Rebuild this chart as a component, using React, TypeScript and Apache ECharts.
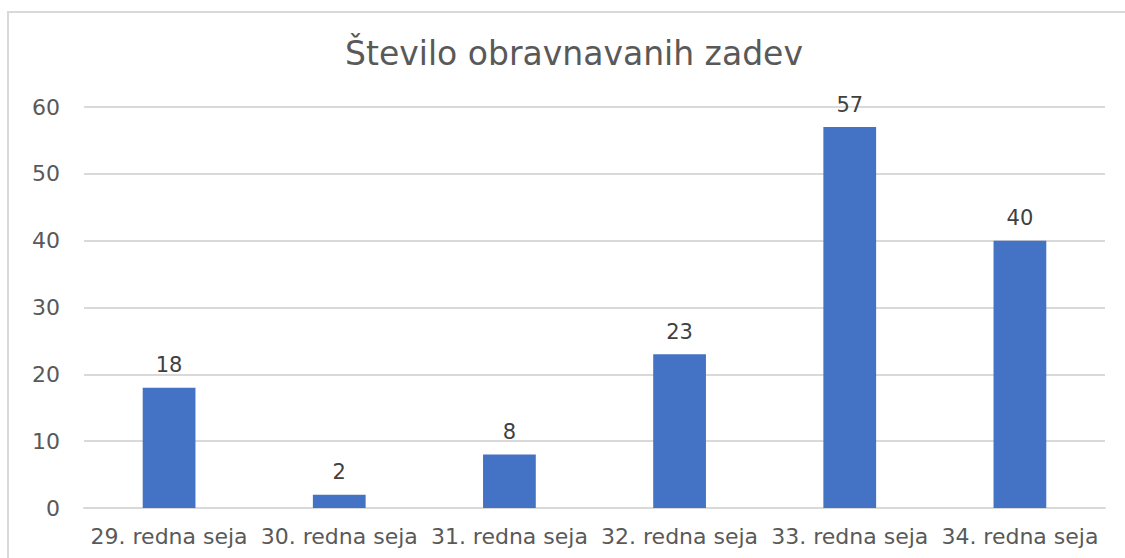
import React, { useEffect, useRef } from "react";
import * as echarts from "echarts";

const categories = [
  "29. redna seja",
  "30. redna seja",
  "31. redna seja",
  "32. redna seja",
  "33. redna seja",
  "34. redna seja",
];
const values = [18, 2, 8, 23, 57, 40];
const titleText = "Število obravnavanih zadev";

export default function App() {
  const ref = useRef<HTMLDivElement>(null);
  useEffect(() => {
    document.body.style.margin = "0";
    const chart = echarts.init(ref.current!, null, { renderer: "svg" });
    const font = "'DejaVu Sans', 'Noto Sans', sans-serif";
    chart.setOption({
      animation: false,
      backgroundColor: "#ffffff",
      title: {
        text: titleText,
        left: 569,
        top: 32,
        textAlign: "center",
        textStyle: { fontFamily: font, fontSize: 33, fontWeight: "normal", color: "#595959" },
      },
      graphic: [
        {
          type: "rect",
          shape: { x: 8, y: 12, width: 1200, height: 600 },
          style: { fill: "none", stroke: "#d9d9d9", lineWidth: 2 },
          silent: true,
        },
      ],
      grid: { left: 84, right: 20, top: 107, bottom: 50, containLabel: false },
      xAxis: {
        type: "category",
        data: categories,
        axisTick: { show: false },
        axisLine: { lineStyle: { color: "#d9d9d9", width: 2 } },
        axisLabel: { fontFamily: font, fontSize: 22, color: "#595959", margin: 17, interval: 0 },
      },
      yAxis: {
        type: "value",
        min: 0,
        max: 60,
        interval: 10,
        axisLine: { show: false },
        axisTick: { show: false },
        splitLine: { lineStyle: { color: "#d9d9d9", width: 2 } },
        axisLabel: { fontFamily: font, fontSize: 22, color: "#595959", margin: 24 },
      },
      series: [
        {
          type: "bar",
          data: values,
          barWidth: "31%",
          itemStyle: { color: "#4472C4" },
          label: {
            show: true,
            position: "top",
            distance: 12,
            fontFamily: font,
            fontSize: 21,
            color: "#404040",
          },
        },
      ],
    });
    return () => chart.dispose();
  }, []);
  return <div ref={ref} style={{ position: "absolute", left: 0, top: 0, width: 1125, height: 558 }} />;
}
